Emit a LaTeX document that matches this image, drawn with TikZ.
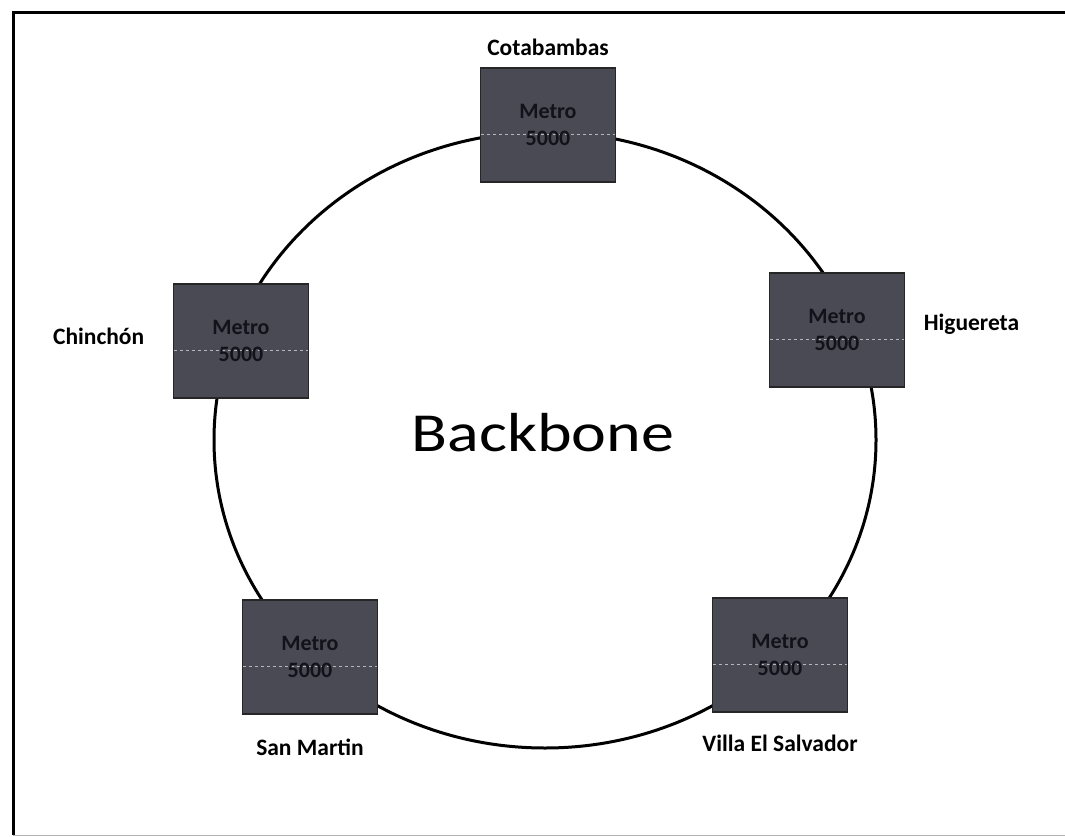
\documentclass[tikz,border=0pt]{standalone}
\usepackage{fontspec}
\setmainfont{Carlito}
\newfontfamily\backbonefont[FakeStretch=1.2]{Carlito}
\usetikzlibrary{positioning}
\definecolor{boxgray}{RGB}{74,74,84}
\definecolor{boxtext}{RGB}{18,18,26}
\newcommand\metrotext{\textbf{Metro}\\\textbf{5000}}
\tikzset{
  metro/.style = {shape=rectangle, draw=black!85, line width=1.5pt,
                  fill=boxgray, text=boxtext, align=center,
                  minimum width=135pt, minimum height=114pt,
                  font=\fontsize{22}{27}\selectfont,
                  path picture={\draw[white!60!boxgray, dashed, line width=0.6pt]
                    ([yshift=-9pt]path picture bounding box.west) --
                    ([yshift=-9pt]path picture bounding box.east);}},
  site/.style  = {font=\fontsize{23.5}{28}\selectfont\bfseries},
  ring/.style  = {draw, line width=3pt},
}
\begin{document}
\begin{tikzpicture}[x=1pt, y=-1pt]
    \useasboundingbox (0,0) rectangle (1065,837);
    % frame
    \draw[line width=3pt] (13,835) -- (13,13) -- (1065,13);
    \draw[black!30, line width=1pt] (13,835) -- (1065,835);
    % ring
    \draw[ring] (545,440) ellipse [x radius=331pt, y radius=308pt];
    \node [font=\backbonefont\fontsize{55}{60}\selectfont] (bb) at (543,433) {Backbone};
    % nodes of the ring
    \node [metro] (cota) at (548,125) {\metrotext};
    \node [metro] (chin) at (241,341) {\metrotext};
    \node [metro] (higu) at (837,330) {\metrotext};
    \node [metro] (smar) at (310,657) {\metrotext};
    \node [metro] (vesa) at (780,655) {\metrotext};
    % site names
    \node [site, above=8pt of cota] (cotalbl) {Cotabambas};
    \node [site, left=25pt of chin, yshift=5pt] (chinlbl) {Chinchón};
    \node [site, right=15pt of higu, yshift=6pt] (higulbl) {Higuereta};
    \node [site, below=21pt of smar] (smarlbl) {San Martin};
    \node [site, below=19pt of vesa] (vesalbl) {Villa El Salvador};
\end{tikzpicture}
\end{document}
